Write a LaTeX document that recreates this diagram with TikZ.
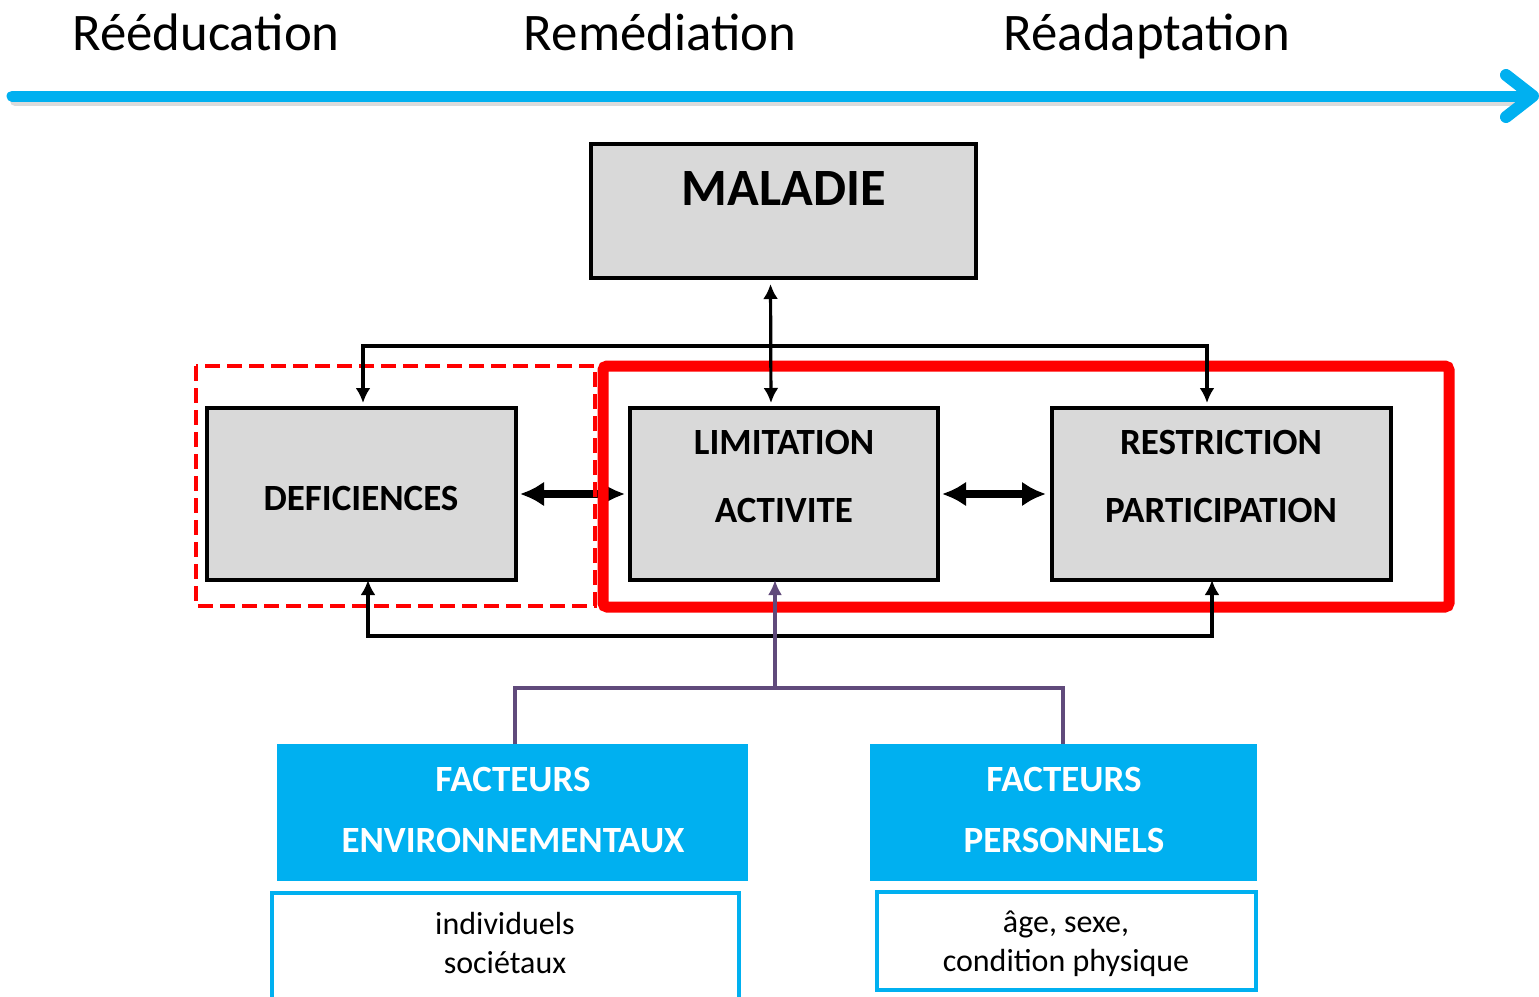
\documentclass[tikz,border=0pt]{standalone}
\usepackage{fontspec}
\setmainfont{Carlito}
\usetikzlibrary{arrows.meta}
\definecolor{cyanb}{RGB}{0,176,240}
\definecolor{boxgray}{RGB}{217,217,217}
\definecolor{purp}{RGB}{96,74,123}
\definecolor{redb}{RGB}{255,0,0}
\begin{document}
\begin{tikzpicture}[x=0.5pt,y=-0.5pt,
  graybox/.style={draw=black,fill=boxgray,line width=1.6pt,inner sep=0pt,outer sep=0pt},
  bluebox/.style={fill=cyanb,inner sep=0pt,outer sep=0pt},
  whitebox/.style={draw=cyanb,fill=white,line width=1.8pt,inner sep=0pt,outer sep=0pt},
  toplabel/.style={font=\fontsize{26.4}{30}\selectfont,anchor=base,inner sep=0pt},
  boxlabel/.style={font=\fontsize{18.5}{22}\selectfont\bfseries,anchor=base,inner sep=0pt},
  bluelabel/.style={font=\fontsize{18.5}{22}\selectfont\bfseries,text=white,anchor=base,inner sep=0pt},
  smalllabel/.style={font=\fontsize{16}{19}\selectfont,anchor=base,inner sep=0pt},
  thinc/.style={draw=black,line width=1.6pt,{Latex[length=7.5pt,width=7.5pt]}-{Latex[length=7.5pt,width=7.5pt]}},
  thickc/.style={draw=black,line width=3.6pt,{Latex[length=12pt,width=12.5pt]}-{Latex[length=12pt,width=12.5pt]}},
  purpc/.style={draw=purp,line width=1.6pt}
]
\useasboundingbox (0,0) rectangle (1539,997);

% timeline arrow
\draw[black!14,line width=5pt,line cap=round] (15,101) -- (1528,101);
\draw[cyanb,line width=5.5pt,line cap=round] (12,96) -- (1531,96);
\draw[cyanb,line width=6pt,line cap=round,line join=round] (1506,75) -- (1533,96) -- (1506,117);

\node[toplabel] (t1) at (206,50) {Rééducation};
\node[toplabel] (t2) at (660,50) {Remédiation};
\node[toplabel] (t3) at (1147,50) {Réadaptation};

% gray boxes
\node[graybox,minimum width=192.5pt,minimum height=67pt] (mal) at (783.5,211) {};
\node[boxlabel,font=\fontsize{26.2}{30}\selectfont\bfseries] (malt) at (784,205) {MALADIE};

\node[graybox,minimum width=154.5pt,minimum height=86pt] (def) at (361.5,494) {};
\node[boxlabel] (deft) at (361,510) {DEFICIENCES};

\node[graybox,minimum width=154pt,minimum height=86pt] (lim) at (784,494) {};
\node[boxlabel] (limt1) at (784,454) {LIMITATION};
\node[boxlabel] (limt2) at (784,522) {ACTIVITE};

\node[graybox,minimum width=169.5pt,minimum height=86pt] (res) at (1221.5,494) {};
\node[boxlabel] (rest1) at (1221,454) {RESTRICTION};
\node[boxlabel] (rest2) at (1221,522) {PARTICIPATION};

% blue boxes
\node[bluebox,minimum width=235.5pt,minimum height=68.5pt] (env) at (512.5,812.5) {};
\node[bluelabel] (envt1) at (513,791) {FACTEURS};
\node[bluelabel] (envt2) at (513,852) {ENVIRONNEMENTAUX};

\node[bluebox,minimum width=193.5pt,minimum height=68.5pt] (per) at (1063.5,812.5) {};
\node[bluelabel] (pert1) at (1064,791) {FACTEURS};
\node[bluelabel] (pert2) at (1064,852) {PERSONNELS};

% white boxes
\node[whitebox,minimum width=233.5pt,minimum height=56pt] (ind) at (505.5,949) {};
\node[smalllabel] (indt1) at (505,934) {individuels};
\node[smalllabel] (indt2) at (505,973) {sociétaux};

\node[whitebox,minimum width=189.5pt,minimum height=49pt] (age) at (1066.5,941) {};
\node[smalllabel] (aget1) at (1066,932) {âge, sexe,};
\node[smalllabel] (aget2) at (1066,971) {condition physique};

% thick double arrows
\draw[thickc,shorten <=2pt,shorten >=2.5pt] (def.east) -- (lim.west);
\draw[thickc,shorten <=2pt,shorten >=3pt] (lim.east) -- (res.west);

% red frames
\draw[redb,line width=2.3pt,dash pattern=on 7.5pt off 3.5pt] (196,366) rectangle (595,606);
\draw[redb,line width=5.5pt,rounded corners=2pt] (603,366) rectangle (1449,607);

% thin connectors
\draw[thinc,shorten <=3pt,shorten >=2.5pt] ([xshift=-6.5pt]mal.south) -- ([xshift=-6.5pt]lim.north);
\draw[thinc,shorten <=2.5pt,shorten >=2.5pt] ([xshift=0.75pt]def.north) -- ++(0,-62) -| ([xshift=-7.25pt]res.north);
\draw[thinc] ([xshift=3.25pt]def.south) -- ++(0,56) -| ([xshift=-4.75pt]res.south);

% purple connectors
\draw[purpc] ([xshift=1.25pt]env.north) -- ++(0,-56) -| ([xshift=-0.25pt]per.north);
\coordinate (pj) at (775,688);
\draw[purpc,-{Latex[length=7.5pt,width=7pt]}] (pj) -- ([xshift=-4.5pt]lim.south);
\end{tikzpicture}
\end{document}
